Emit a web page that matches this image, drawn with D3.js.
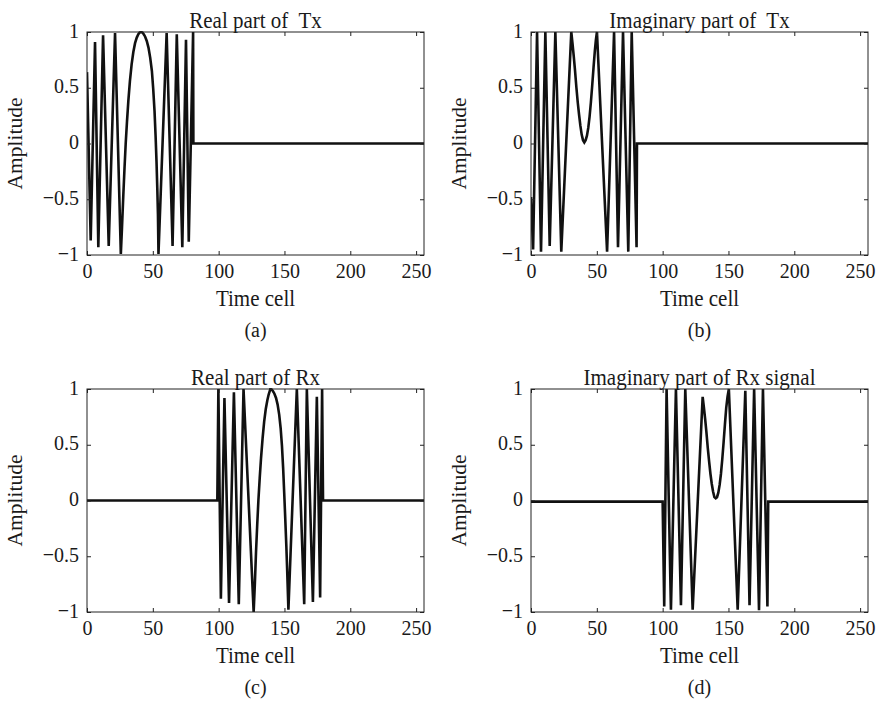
<!DOCTYPE html>
<html><head><meta charset="utf-8">
<script src="https://cdn.jsdelivr.net/npm/d3@7"></script>
<style>
body{margin:0;background:#fff}
text{font-family:"Liberation Serif","Times New Roman",serif;fill:#1a1a1a;white-space:pre}
</style>
</head><body>
<svg id="chart" width="878" height="706"></svg>
<script>
// ---- data (time cell, amplitude) ----
const realTx = [[0,0.64],[2.8,-0.87],[6.1,0.91],[8.6,-0.93],[12.2,0.97],[16.5,-0.92],[21.3,0.99],[25.7,-0.99],
  [26.6,-0.75],[27.6,-0.46],[28.5,-0.22],[29.4,0],[30.4,0.2],[31.4,0.38],[32.6,0.56],[33.9,0.71],[35.2,0.82],
  [36.5,0.9],[37.8,0.95],[39,0.98],[40,0.995],[41,1],[42.1,0.995],[43.1,0.98],[44.1,0.96],[45.4,0.92],[46.7,0.86],
  [48,0.77],[49.3,0.65],[50.3,0.49],[51.3,0.29],[52.1,0.07],[52.8,-0.16],[53.4,-0.4],[53.9,-0.64],[54.3,-0.99],
  [60.5,0.99],[65,-0.92],[68.2,0.98],[72.4,-0.93],[75.2,0.93],[77.3,-0.88],[80.6,1],[80.8,0],[256,0]];
const imagTx = [[0,-0.48],[1.6,-0.95],[4.6,1],[7.6,-0.97],[10.9,1],[14.2,-0.92],[18.5,1],[23,-0.97],[30.6,1],
  [31.5,0.9],[32.5,0.78],[33.4,0.66],[34.5,0.5],[35.5,0.37],[36.5,0.26],[37.5,0.16],[38.5,0.08],[39.5,0.03],
  [40.5,0.01],[41.5,0.03],[42.5,0.07],[43.5,0.14],[44.5,0.24],[45.5,0.37],[46.5,0.52],[47.5,0.68],[48.5,0.83],
  [49.3,0.93],[50.1,1],
  [57.8,-0.97],[63.1,1],[66.1,-0.93],[69.9,1],[73.9,-0.97],[76.5,1],[80.2,-0.93],[80.5,0],[256,0]];
const realRx = [[0,0],[99,0],[99.8,1],[101.7,-0.88],[104.4,0.92],[107.9,-0.92],[111.6,0.97],[115.3,-0.93],[118.9,1],[126.6,-1],
  [127.5,-0.75],[128.4,-0.46],[129.3,-0.22],[130.2,0],[131.2,0.2],[132.2,0.38],[133.4,0.56],[134.6,0.71],[135.8,0.82],
  [137,0.9],[138,0.95],[138.8,0.98],[139.3,1],[140.3,0.995],[141.3,0.98],[142.3,0.96],[143.6,0.92],[144.8,0.86],
  [146,0.77],[147.1,0.65],[148.1,0.49],[149,0.29],[149.8,0.07],[150.6,-0.16],[151.4,-0.4],[152.1,-0.64],[153,-0.98],
  [159.4,1],[165,-0.93],[167,1],[171.6,-0.91],[174.6,0.93],[177.1,-0.87],[178.6,1],[179.3,0],[256,0]];
const imagRx = [[0,-0.01],[100,-0.01],[101.2,-0.95],[103,1],[106.3,-0.98],[110.1,1],[113.9,-0.94],[117.2,1],[122.8,-0.98],[130.4,0.93],
  [131.3,0.84],[132.3,0.73],[133.2,0.62],[134.3,0.47],[135.3,0.35],[136.3,0.24],[137.3,0.15],[138.3,0.08],[139.3,0.03],
  [140.3,0.02],[141.3,0.03],[142.3,0.07],[143.3,0.14],[144.3,0.24],[145.3,0.37],[146.3,0.52],[147.3,0.68],[148.3,0.83],
  [149.3,0.93],[150.3,1],
  [157,-0.98],[162.8,0.985],[166,-0.94],[169.5,1],[173.2,-0.985],[176.2,1],[179.6,-0.95],[180.2,-0.01],[256,-0.01]];

const xTicks = [0,50,100,150,200,250];
const yTicks = [-1,-0.5,0,0.5,1];
const titles = ["Real part of  Tx","Imaginary part of  Tx","Real part of Rx","Imaginary part of Rx signal"];
const captions = ["(a)","(b)","(c)","(d)"];
const series = [realTx, imagTx, realRx, imagRx];
const xLabel = "Time cell", yLabel = "Amplitude";

// ---- layout ----
const svg = d3.select("#chart");
const W = 337, H = 223, SY = 1.08;
const origins = [[87,32],[531,32],[87,389],[531,389]];
const fmtY = d => d === 0 ? "0" : (d < 0 ? "\u2212" : "") + Math.abs(d);

function label(g, x, y, str, size, rot, sy) {
  g.append("text")
    .attr("transform", `translate(${x},${y}) rotate(${rot||0}) scale(1,${sy||SY})`)
    .attr("text-anchor","middle").attr("font-size",size).text(str);
}

series.forEach((data, i) => {
  const [ox, oy] = origins[i];
  const x = d3.scaleLinear().domain([0,256]).range([0,W]);
  const y = d3.scaleLinear().domain([-1,1]).range([H,0]);
  const g = svg.append("g").attr("transform", `translate(${ox},${oy})`);

  g.append("clipPath").attr("id","clip"+i).append("rect")
    .attr("x",0).attr("y",-1).attr("width",W).attr("height",H+2);

  const line = d3.line().x(d => x(d[0])).y(d => y(d[1]));
  g.append("path").datum(data).attr("clip-path",`url(#clip${i})`)
    .attr("d", line).attr("fill","none").attr("stroke","#111")
    .attr("stroke-width",2.6).attr("stroke-linejoin","miter").attr("stroke-miterlimit",3);

  const styleAxis = (sel) => {
    sel.select(".domain").remove();
    sel.selectAll(".tick line").attr("stroke","#222").attr("stroke-width",1);
    sel.selectAll(".tick text").attr("font-size",20).attr("fill","#1a1a1a")
      .attr("font-family",'"Liberation Serif","Times New Roman",serif')
      .attr("transform",`scale(1,${SY})`);
  };
  g.append("g").attr("transform",`translate(0,${H})`)
    .call(d3.axisBottom(x).tickValues(xTicks).tickSize(-4).tickPadding(7)).call(styleAxis);
  g.append("g").call(d3.axisTop(x).tickValues(xTicks).tickSize(-4).tickFormat("")).call(styleAxis);
  g.append("g").call(d3.axisLeft(y).tickValues(yTicks).tickSize(-4).tickPadding(8).tickFormat(fmtY)).call(styleAxis)
    .selectAll(".tick text").attr("dy","0.24em");
  g.append("g").attr("transform",`translate(${W},0)`)
    .call(d3.axisRight(y).tickValues(yTicks).tickSize(-4).tickFormat("")).call(styleAxis);

  g.append("rect").attr("width",W).attr("height",H).attr("fill","none")
    .attr("stroke","#222").attr("stroke-width",1);

  label(g, W/2, -4, titles[i], 21);
  label(g, W/2, H+51, xLabel, 21);
  label(g, W/2, H+82, captions[i], 20);
  label(g, -65, H/2, yLabel, 21.5, -90, 1);
});
</script>
</body></html>
